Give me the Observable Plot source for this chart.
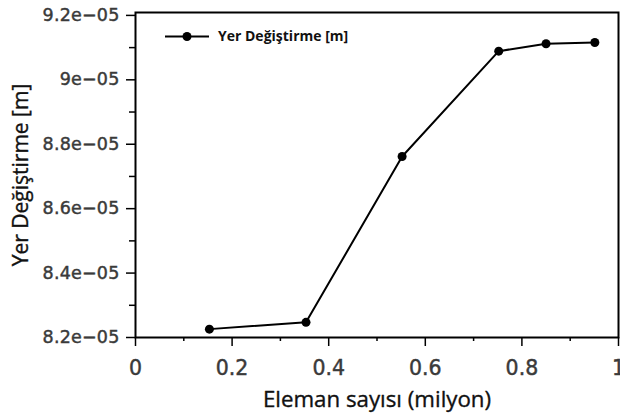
<!DOCTYPE html>
<html>
<head>
<meta charset="utf-8">
<script src="https://cdn.jsdelivr.net/npm/d3@7"></script>
<script src="https://cdn.jsdelivr.net/npm/@observablehq/plot@0.6"></script>
<style>
  html, body { margin: 0; padding: 0; background: #fff; }
  #chart svg { display: block; overflow: visible; }
  #chart [aria-label="y-axis tick label"] {
    fill: #3a3a3a; stroke: #3a3a3a; stroke-width: 0.45px;
    font-family: "DejaVu Sans"; font-size: 17.5px; letter-spacing: 0.2px;
  }
  #chart [aria-label="x-axis tick label"] {
    fill: #3a3a3a; stroke: #3a3a3a; stroke-width: 0.45px;
    font-family: "DejaVu Sans"; font-size: 20.5px;
  }
</style>
</head>
<body>
<div id="chart"></div>
<script>
// Data
const elemanSayisi = [0.153, 0.353, 0.552, 0.752, 0.850, 0.951];          // million elements
const yerDegistirme = [8.226e-5, 8.247e-5, 8.762e-5, 9.089e-5, 9.112e-5, 9.116e-5]; // m

// Ticks
const xTicks = [0, 0.2, 0.4, 0.6, 0.8, 1];
const xTickLabels = ["0", "0.2", "0.4", "0.6", "0.8", "1"];
const xMinorTicks = [0.1, 0.3, 0.5, 0.7, 0.9];
const yTicks = [8.2e-5, 8.4e-5, 8.6e-5, 8.8e-5, 9.0e-5, 9.2e-5];
const yTickLabels = ["8.2e\u221205", "8.4e\u221205", "8.6e\u221205", "8.8e\u221205", "9e\u221205", "9.2e\u221205"];
const yMinorTicks = [8.3e-5, 8.5e-5, 8.7e-5, 8.9e-5, 9.1e-5];

const seriesName = "Yer Değiştirme [m]";
const xTitle = "Eleman sayısı (milyon)";
const yTitle = "Yer Değiştirme [m]";

const data = elemanSayisi.map((x, i) => ({x, y: yerDegistirme[i]}));

const chart = Plot.plot({
  width: 620,
  height: 417,
  marginLeft: 135,
  marginRight: 2,
  marginTop: 12,
  marginBottom: 80,
  style: {fontFamily: "DejaVu Sans", background: "#fff", color: "#000"},
  x: {domain: [0, 1]},
  y: {domain: [8.2e-5, 9.209e-5]},
  marks: [
    Plot.axisY(yTicks, {tickSize: 9, tickPadding: 7, strokeWidth: 1.5,
      tickFormat: d => yTickLabels[yTicks.indexOf(d)], label: null}),
    Plot.axisY(yMinorTicks, {tickSize: 6, strokeWidth: 1.5, tickFormat: () => "", label: null}),
    Plot.axisX(xTicks, {tickSize: 9, tickPadding: 14, strokeWidth: 1.5,
      tickFormat: d => xTickLabels[xTicks.indexOf(d)], label: null}),
    Plot.axisX(xMinorTicks, {tickSize: 4, strokeWidth: 1.5, tickFormat: () => "", label: null}),
    Plot.line(data, {x: "x", y: "y", stroke: "#000", strokeWidth: 2}),
    Plot.dot(data, {x: "x", y: "y", r: 4.5, fill: "#000"}),
    Plot.frame({stroke: "#000", strokeWidth: 2}),
    Plot.text([yTitle], {frameAnchor: "left", dx: -114, rotate: -90, fontSize: 21,
      textAnchor: "middle", lineAnchor: "middle",
      fontFamily: "Open Sans", fontWeight: 500, fill: "#111", stroke: "#111", strokeWidth: 0.35}),
    Plot.text([xTitle], {frameAnchor: "bottom", dy: 62, fontSize: 22.3,
      textAnchor: "middle", lineAnchor: "middle",
      fontFamily: "Open Sans", fontWeight: 500, fill: "#111", stroke: "#111", strokeWidth: 0.35})
  ]
});

// Legend (inside the frame, top-left)
const svg = d3.select(chart);
const lg = svg.append("g").attr("aria-label", "legend");
lg.append("line").attr("x1", 165).attr("x2", 209).attr("y1", 36.5).attr("y2", 36.5)
  .attr("stroke", "#000").attr("stroke-width", 2);
lg.append("circle").attr("cx", 187).attr("cy", 36.5).attr("r", 4.5).attr("fill", "#000");
lg.append("text").attr("x", 218).attr("y", 36.5).attr("dy", "0.35em")
  .attr("text-anchor", "start")
  .attr("font-family", "Open Sans").attr("font-weight", "bold").attr("font-size", 14)
  .attr("fill", "#111").text(seriesName);

document.getElementById("chart").appendChild(chart);
</script>
</body>
</html>
